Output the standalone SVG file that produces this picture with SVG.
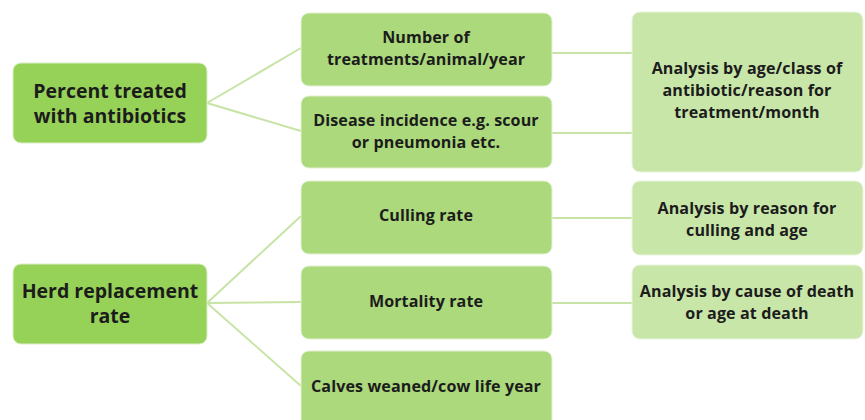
<svg xmlns="http://www.w3.org/2000/svg" width="865" height="420" viewBox="0 0 865 420">
  <style>
    .lvl1 { fill: #97d258; stroke: #d9eec4; stroke-width: 1; }
    .lvl2 { fill: #abd97b; stroke: #e2f1d3; stroke-width: 1; }
    .lvl3 { fill: #c9e6a9; stroke: #e9f4de; stroke-width: 1; }
    .t { font-family: "Open Sans", Lato, "Liberation Sans", sans-serif; font-weight: bold; fill: #1c1c1c; text-anchor: middle; }
    .t1 { font-size: 19.5px; }
    .t2 { font-size: 16.1px; letter-spacing: 0.1px; }
    .conn { stroke: #c7e4a6; stroke-width: 2; fill: none; }
  </style>

  <!-- connectors -->
  <g id="connectors">
    <line class="conn" x1="207" y1="103" x2="301" y2="48"/>
    <line class="conn" x1="207" y1="103" x2="301" y2="131"/>
    <line class="conn" x1="207" y1="303" x2="301" y2="216"/>
    <line class="conn" x1="207" y1="303" x2="301" y2="302"/>
    <line class="conn" x1="207" y1="303" x2="301" y2="386"/>
    <line class="conn" x1="552" y1="53" x2="632" y2="53"/>
    <line class="conn" x1="552" y1="133" x2="632" y2="133"/>
    <line class="conn" x1="552" y1="218" x2="632" y2="218"/>
    <line class="conn" x1="552" y1="303" x2="632" y2="303"/>
  </g>

  <!-- level 1 -->
  <g id="percent-treated">
    <rect class="lvl1" x="13" y="63" width="194" height="80" rx="8"/>
    <text class="t t1" x="110" y="98">Percent treated</text>
    <text class="t t1" x="110" y="123">with antibiotics</text>
  </g>
  <g id="herd-replacement">
    <rect class="lvl1" x="13" y="264" width="194" height="80" rx="8"/>
    <text class="t t1" x="110" y="298">Herd replacement</text>
    <text class="t t1" x="110" y="323">rate</text>
  </g>

  <!-- level 2 -->
  <g id="treatments">
    <rect class="lvl2" x="301" y="13" width="251" height="73" rx="8"/>
    <text class="t t2" x="426" y="43">Number of</text>
    <text class="t t2" x="426" y="65">treatments/animal/year</text>
  </g>
  <g id="disease-incidence">
    <rect class="lvl2" x="301" y="96" width="251" height="72" rx="8"/>
    <text class="t t2" x="426" y="126">Disease incidence e.g. scour</text>
    <text class="t t2" x="426" y="148">or pneumonia etc.</text>
  </g>
  <g id="culling-rate">
    <rect class="lvl2" x="301" y="181" width="251" height="73" rx="8"/>
    <text class="t t2" x="426" y="221">Culling rate</text>
  </g>
  <g id="mortality-rate">
    <rect class="lvl2" x="301" y="266" width="251" height="73" rx="8"/>
    <text class="t t2" x="426" y="307">Mortality rate</text>
  </g>
  <g id="calves-weaned">
    <rect class="lvl2" x="301" y="351" width="251" height="80" rx="8"/>
    <text class="t t2" x="426" y="392">Calves weaned/cow life year</text>
  </g>

  <!-- level 3 -->
  <g id="analysis-antibiotic">
    <rect class="lvl3" x="632" y="12" width="231" height="160" rx="8"/>
    <text class="t t2" x="747" y="74">Analysis by age/class of</text>
    <text class="t t2" x="747" y="96">antibiotic/reason for</text>
    <text class="t t2" x="747" y="118">treatment/month</text>
  </g>
  <g id="analysis-culling">
    <rect class="lvl3" x="632" y="181" width="231" height="74" rx="8"/>
    <text class="t t2" x="747" y="214">Analysis by reason for</text>
    <text class="t t2" x="747" y="236">culling and age</text>
  </g>
  <g id="analysis-mortality">
    <rect class="lvl3" x="632" y="265" width="231" height="74" rx="8"/>
    <text class="t t2" x="747" y="297">Analysis by cause of death</text>
    <text class="t t2" x="747" y="319">or age at death</text>
  </g>
</svg>
